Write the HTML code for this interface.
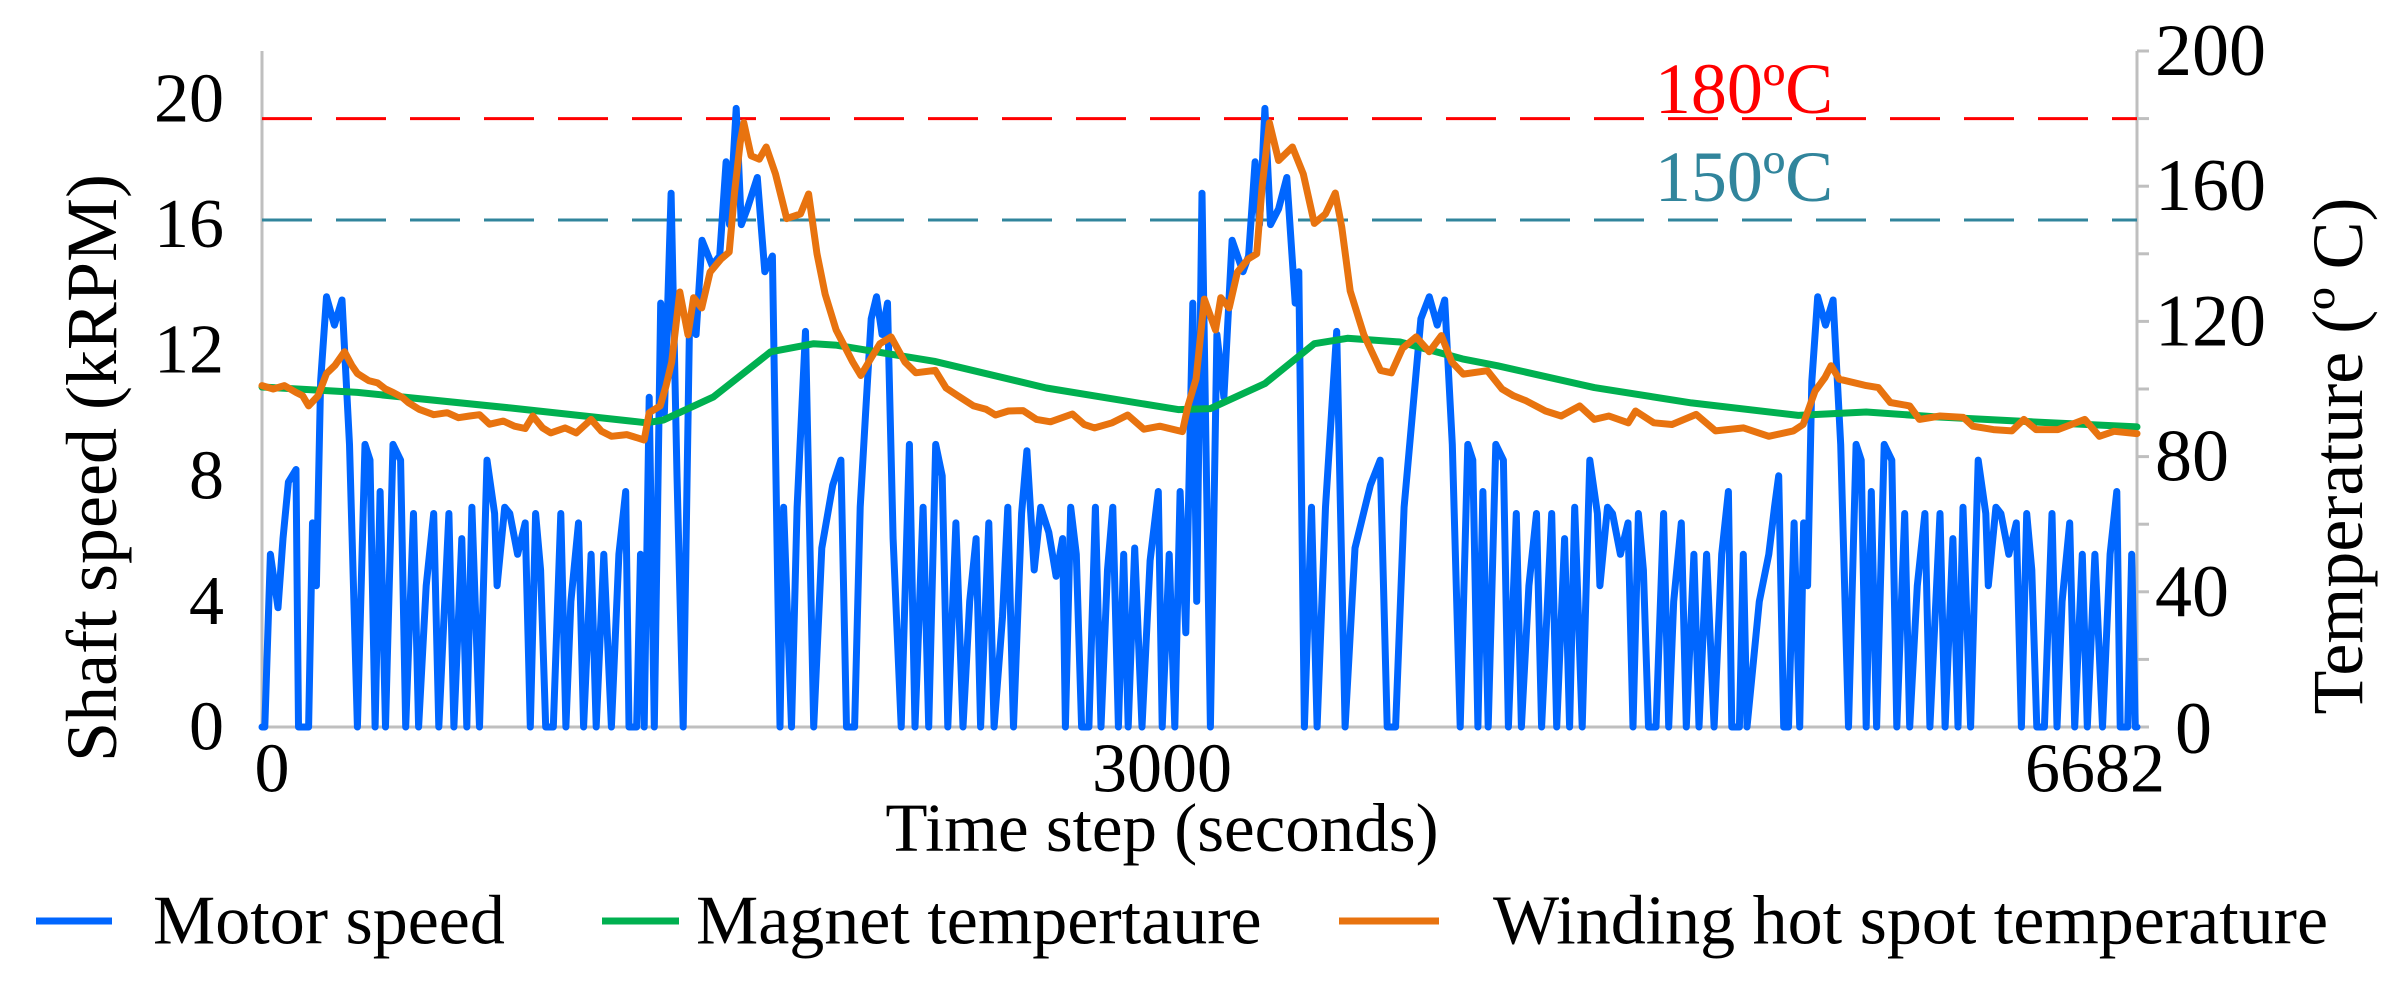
<!DOCTYPE html>
<html><head><meta charset="utf-8"><style>
html,body{margin:0;padding:0;background:#fff;}
svg{display:block;font-family:"Liberation Serif",serif;}
</style></head><body>
<svg id="chart" width="2401" height="986" viewBox="0 0 2401 986" xmlns="http://www.w3.org/2000/svg">
<g id="axes"></g>
<g id="plot"></g>
<g id="labels"></g>
<text x="0" y="0" transform="translate(92,468) rotate(-90)" text-anchor="middle" dominant-baseline="central" font-size="72">Shaft speed (kRPM)</text>
<text x="0" y="0" transform="translate(2338,456) rotate(-90)" text-anchor="middle" dominant-baseline="central" font-size="72">Temperature (º C)</text>
<text x="1162" y="828" text-anchor="middle" dominant-baseline="central" font-size="69">Time step (seconds)</text>
<text x="1744" y="89" text-anchor="middle" dominant-baseline="central" font-size="72" fill="#ff0000">180ºC</text>
<text x="1744" y="177" text-anchor="middle" dominant-baseline="central" font-size="72" fill="#31859c">150ºC</text>
<g>
<line x1="36" y1="921" x2="112" y2="921" stroke="#0066ff" stroke-width="7"/>
<text x="153" y="921" dominant-baseline="central" font-size="70">Motor speed</text>
<line x1="602" y1="921" x2="679" y2="921" stroke="#00b050" stroke-width="7"/>
<text x="696" y="921" dominant-baseline="central" font-size="70">Magnet tempertaure</text>
<line x1="1339" y1="921" x2="1439" y2="921" stroke="#e8730f" stroke-width="7"/>
<text x="1493" y="921" dominant-baseline="central" font-size="70">Winding hot spot temperature</text>
</g>
</svg>
<script>
const speedT=[0,10,30,57,75,94,121,130,166,180,194,209,230,258,285,312,340,367,385,403,421,440,467,494,512,540,558,585,612,630,666,684,712,730,748,775,802,829,838,865,883,911,938,956,975,993,1011,1038,1065,1083,1101,1128,1146,1173,1191,1218,1245,1272,1296,1308,1335,1349,1362,
1380,1398,1421,1434,1458,1479,1501,1524,1547,1568,1604,1631,1654,1666,1690,1708,1729,1765,1792,1819,1846,
1859,1887,1907,1937,1966,1995,2034,2063,2083,2112,2132,2151,2171,2190,2210,2229,2249,2278,2307,2327,2356,2376,2401,2424,2444,2473,2498,2522,2545,2561,2590,2609,2639,2658,2678,2707,2726,2752,2775,2804,2830,2853,2863,2882,2902,2921,2947,2970,2990,3013,3032,3052,3071,3087,3110,3136,3165,3194,3208,3233,3253,3272,3292,
3317,3331,3350,3380,3403,3428,3457,3496,3516,3539,3555,3574,3594,3623,3652,3682,3695,3715,
3740,3760,3790,3830,3860,3895,3950,3985,4010,4040,4070,4100,4130,
4160,4188,4215,4242,4270,4297,4315,4333,4351,4370,4397,4424,4442,4470,4488,4515,4542,4560,4596,4614,4642,4660,4678,4705,4732,4759,4768,4795,4813,4841,4868,4886,4905,4923,4941,4968,4995,5013,5031,5058,5076,5103,5121,5148,5175,5202,5226,5238,5265,5279,5292,
5336,5370,5390,5405,5423,5440,5460,5480,5494,5508,5523,
5544,5572,5599,5626,5654,5681,5699,5717,5735,5754,5781,5808,5826,5854,5872,5899,5926,5944,5980,5998,6026,6044,6062,6089,6116,6143,6152,6179,6197,6225,6252,6270,6289,6307,6325,6352,6379,6397,6415,6442,6460,6487,6505,6532,6559,6586,6610,6622,6649,6663,6676,6682];
const speedV=[0,0,5.5,3.8,6,7.8,8.2,0,0,6.5,4.5,11,13.7,12.8,13.6,9,0,9,8.5,0,7.5,0,9,8.5,0,6.8,0,4.5,6.8,0,6.8,0,6,0,7,0,8.5,6.8,4.5,7,6.8,5.5,6.5,0,6.8,5,0,0,6.8,0,4,6.5,0,5.5,0,5.5,0,5.5,7.5,0,0,5.5,0,
10.5,0,13.5,10,17,8,0,13,12.5,15.5,14.7,15,18,16,19.7,16,16.5,17.5,14.5,15,0,
7,0,7,12.6,0,5.7,7.7,8.5,0,0,7,10,13,13.7,12.5,13.5,6,0,9,0,7,0,9,8,0,6.5,0,4,6,0,6.5,0,3.5,7,0,6.8,8.8,5,7,6.2,4.8,6,0,7,5.5,0,0,7,0,5,7,0,5.5,0,5.7,0,5.3,7.5,0,5.5,0,7.5,3,
13.5,4,17,0,12.5,10.5,15.5,14.5,15,18,16,19.7,16,16.5,17.5,13.5,14.5,0,
7,0,7,12.6,0,5.7,7.7,8.5,0,0,7,10,13,
13.7,12.8,13.6,9,0,9,8.5,0,7.5,0,9,8.5,0,6.8,0,4.5,6.8,0,6.8,0,6,0,7,0,8.5,6.8,4.5,7,6.8,5.5,6.5,0,6.8,5,0,0,6.8,0,4,6.5,0,5.5,0,5.5,0,5.5,7.5,0,0,5.5,0,
4,5.5,7,8,0,0,6.5,0,6.5,4.5,11,
13.7,12.8,13.6,9,0,9,8.5,0,7.5,0,9,8.5,0,6.8,0,4.5,6.8,0,6.8,0,6,0,7,0,8.5,6.8,4.5,7,6.8,5.5,6.5,0,6.8,5,0,0,6.8,0,4,6.5,0,5.5,0,5.5,0,5.5,7.5,0,0,5.5,0,0];
const magnetT=[0,340,883,1316,1370,1430,1608,1813,1966,2044,2396,2795,3265,3380,3574,3750,3868,4056,4278,4402,4748,5094,5475,5717,5959,6305,6682];
const magnetV=[100.6,99,94.4,90.5,90,90.8,97.6,111,113.4,113,108.2,100.3,93.9,94.2,101.6,113.4,115,113.9,108.9,106.9,100.4,95.9,92.2,93.2,91.8,90.3,88.8];
const windT=[0,40,80,121,145,166,200,230,260,294,320,340,380,412,440,467,500,521,560,612,660,700,740,775,811,860,900,938,965,1000,1029,1080,1120,1173,1210,1245,1300,1362,1380,1419,1440,1460,1489,1518,1538,1567,1597,1636,1665,1684,1704,1717,1743,1772,1797,1830,1870,1919,1948,1978,2007,2046,2105,2134,2173,2202,2242,2291,2330,2399,2438,2480,2536,2580,2614,2660,2712,2760,2810,2888,2930,2967,3030,3085,3143,3200,3280,3300,3329,3358,3398,3417,3447,3476,3515,3545,3564,3590,3623,3672,3711,3750,3790,3825,3848,3878,3927,3986,4025,4064,4113,4160,4203,4240,4281,4367,4419,4460,4505,4574,4630,4696,4748,4800,4869,4895,4960,5025,5111,5180,5280,5370,5457,5492,5535,5570,5592,5621,5717,5760,5803,5872,5907,5980,6063,6097,6170,6236,6279,6322,6400,6496,6548,6600,6682];
const windV=[101,100,101,99,98,95,98,104.6,107,111,107,104.6,102.5,101.8,100,99,97.5,96,94,92.4,93,91.5,92,92.4,89.6,90.5,89,88.3,92,88.5,87,88.5,87,91,87.5,86,86.5,84.9,93,95,101,108,128.7,116,127,124,134.6,138.5,140.5,158,172.9,178.8,169,168,171.6,163.6,150.4,151.8,157.7,140,128,117.5,108,104,109.5,113.4,115.4,108,104.8,105.5,100.3,98,95,94,92.3,93.5,93.6,91,90.3,92.6,89.5,88.5,90,92.3,88.1,89,87.4,95,103,126.6,117.5,127,124,134.6,138.5,140,159.8,178.8,167.6,171.6,163.6,149,151.8,158,147.8,129,116,105.5,104.8,112,115.4,111,115.8,108,104.4,105.4,100,98,96.5,93.5,92,95,91,92,90,93.5,90,89.5,92.5,87.6,88.5,86,87.6,89.5,99.4,103.4,106.9,102.9,101,100.4,96,95,91,92,91.6,89,88,87.6,91,88,88,91,86,87.5,86.8];
const speedTicks=[0,4,8,12,16,20];
const tempTicks=[0,40,80,120,160,200];
const xTicks=[0,3000,6682];
const limitTemps=[180,150];

const X0=262,X1=2137,Y0=727;
const xScale=t=>X0+t/6682*(X1-X0);
const ySpeed=v=>Y0-v*31.4;
const yTemp=v=>Y0-v*3.38;
const NS="http://www.w3.org/2000/svg";
const axes=document.getElementById('axes'),plot=document.getElementById('plot'),labels=document.getElementById('labels');
function mk(tag,attrs,parent){const e=document.createElementNS(NS,tag);for(const k in attrs)e.setAttribute(k,attrs[k]);parent.appendChild(e);return e;}

let a=mk('line',{x1:X0,y1:51,x2:X0,y2:Y0,stroke:'#bfbfbf','stroke-width':3},axes);


a=mk('line',{x1:X1,y1:51,x2:X1,y2:Y0,stroke:'#bfbfbf','stroke-width':3},axes);


a=mk('line',{x1:X0,y1:Y0,x2:X1+12,y2:Y0,stroke:'#bfbfbf','stroke-width':3},axes);


for(let v=0;v<=200;v+=20){const m=mk('line',{x1:X1,y1:yTemp(v),x2:X1+12,y2:yTemp(v),stroke:'#bfbfbf','stroke-width':3},axes);

}

speedTicks.forEach(v=>{const t=mk('text',{x:224,y:ySpeed(v),'text-anchor':'end','dominant-baseline':'central','font-size':70},labels);t.textContent=v;

});
tempTicks.forEach(v=>{const t=mk('text',{x:v===0?2175:2155,y:yTemp(v)+(v===0?2:0),'text-anchor':'start','dominant-baseline':'central','font-size':74},labels);t.textContent=v;

});
xTicks.forEach((v,i)=>{const xs=[xScale(v)+10,1162,xScale(v)-42];const t=mk('text',{x:xs[i],y:769,'text-anchor':'middle','dominant-baseline':'central','font-size':70},labels);t.textContent=v;

});

const limColors=['#ff0000','#31859c'];
limitTemps.forEach((v,i)=>{const l=mk('line',{x1:X0,y1:yTemp(v),x2:X1,y2:yTemp(v),stroke:limColors[i],'stroke-width':3,'stroke-dasharray':'50 24'},plot);

});

function path(ts,vs,yf,color,name){let d='';ts.forEach((t,i)=>{d+=(i?'L':'M')+xScale(t).toFixed(1)+' '+yf(vs[i]).toFixed(1);});
const p=mk('path',{d:d,fill:'none',stroke:color,'stroke-width':7,'stroke-linejoin':'round','stroke-linecap':'round'},plot);

}
path(speedT,speedV,ySpeed,'#0066ff','motor-speed-line');
path(magnetT,magnetV,yTemp,'#00b050','magnet-temperature-line');
path(windT,windV,yTemp,'#e8730f','winding-temperature-line');
</script>
</body></html>
